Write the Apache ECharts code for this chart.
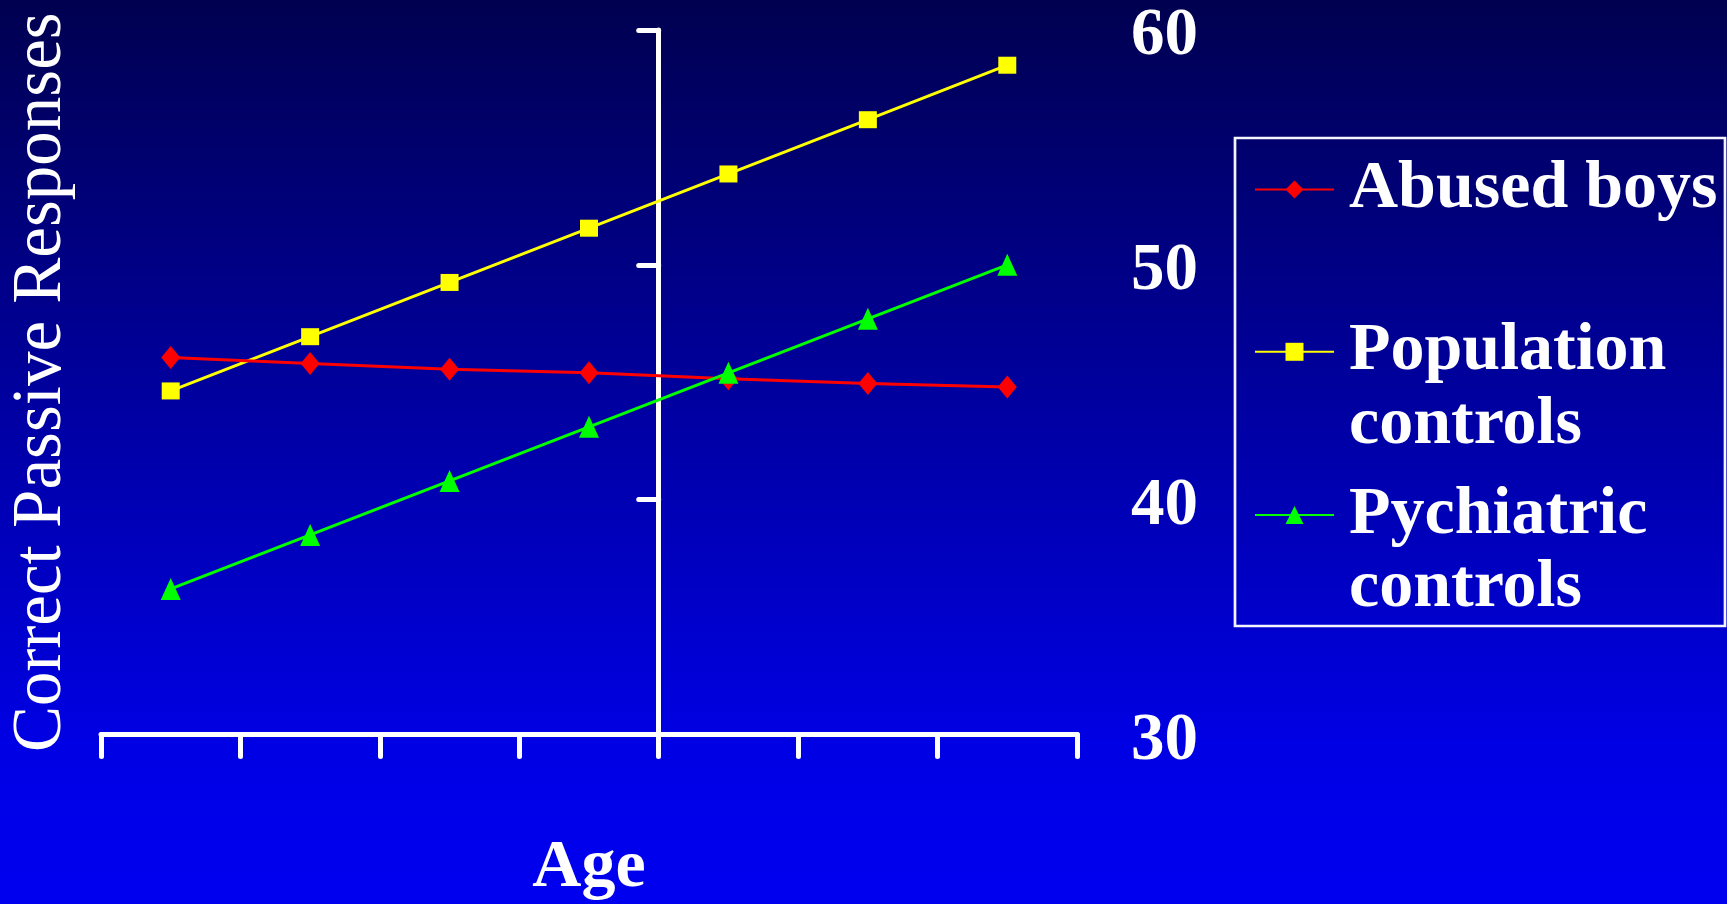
<!DOCTYPE html>
<html>
<head>
<meta charset="utf-8">
<script src="https://cdn.jsdelivr.net/npm/echarts@6/dist/echarts.min.js"></script>
<style>
  html, body { margin: 0; padding: 0; }
  #chart { width: 1727px; height: 904px; }
</style>
</head>
<body>
<div id="chart"></div>
<script>
// Age steps along the horizontal axis (unlabelled)
const ageSteps = ['1', '2', '3', '4', '5', '6', '7'];

// Correct passive responses per group
const abusedBoys = [46.05, 45.8, 45.55, 45.4, 45.15, 44.95, 44.8];
const populationControls = [44.63, 46.94, 49.25, 51.56, 53.87, 56.18, 58.5];
const psychiatricControls = [36.2, 38.5, 40.8, 43.1, 45.4, 47.7, 50.0];

// Value axis range and step
const yMin = 30;
const yMax = 60;
const yStep = 10;

const seriesNames = ['Abused boys', 'Population controls', 'Pychiatric controls'];
// A blank leading line keeps the icon level with the first line of two-line entries
const legendLabels = {
  'Abused boys': 'Abused boys',
  'Population controls': ' \nPopulation\ncontrols',
  'Pychiatric controls': ' \nPychiatric\ncontrols'
};

const serif = "'Liberation Serif', 'Times New Roman', serif";
const white = '#FFFFFF';

const chart = echarts.init(document.getElementById('chart'), null, { renderer: 'canvas' });

function legendFor(name, top) {
  return {
    data: [name],
    left: 1254,
    top: top,
    padding: 0,
    itemWidth: 79,
    itemHeight: 22.5,
    selectedMode: false,
    formatter: n => legendLabels[n],
    textStyle: {
      color: white,
      fontFamily: serif,
      fontWeight: 'bold',
      fontSize: 68,
      lineHeight: 73.6,
      padding: [0, 0, 0, 10]
    }
  };
}

const valueAxisBase = {
  type: 'value',
  min: yMin,
  max: yMax,
  interval: yStep,
  splitLine: { show: false }
};

chart.setOption({
  backgroundColor: {
    type: 'linear', x: 0, y: 0, x2: 0, y2: 1,
    colorStops: [
      { offset: 0, color: '#000050' },
      { offset: 0.82, color: '#0000E4' },
      { offset: 1, color: '#0000F0' }
    ]
  },
  animation: false,
  grid: {
    left: 101, right: 650, top: 30, bottom: 169.5,
    containLabel: false,
    outerBoundsMode: 'none'
  },
  xAxis: {
    type: 'category',
    data: ageSteps,
    boundaryGap: true,
    name: 'Age',
    nameLocation: 'middle',
    nameGap: 100,
    nameTextStyle: { color: white, fontFamily: serif, fontWeight: 'bold', fontSize: 68 },
    axisLine: { show: true, lineStyle: { color: white, width: 5, cap: 'round' } },
    axisTick: { show: true, interval: 0, length: 22, lineStyle: { color: white, width: 5, cap: 'round' } },
    axisLabel: { show: false },
    splitLine: { show: false }
  },
  yAxis: [
    // title axis on the left edge of the plot
    Object.assign({}, valueAxisBase, {
      position: 'left',
      name: 'Correct Passive Responses',
      nameLocation: 'middle',
      nameRotate: 90,
      nameGap: 25,
      nameTextStyle: { color: white, fontFamily: serif, fontWeight: 'normal', fontSize: 69 },
      axisLine: { show: false },
      axisTick: { show: false },
      axisLabel: { show: false }
    }),
    // the visible vertical axis crossing the plot
    Object.assign({}, valueAxisBase, {
      position: 'right',
      offset: -418.3,
      axisLine: { show: true, lineStyle: { color: white, width: 5, cap: 'round' } },
      axisTick: { show: true, inside: true, length: 20, lineStyle: { color: white, width: 5, cap: 'round' } },
      axisLabel: { show: false }
    }),
    // tick values to the right of the plot
    Object.assign({}, valueAxisBase, {
      position: 'right',
      offset: 0,
      axisLine: { show: false },
      axisTick: { show: false },
      axisLabel: {
        show: true,
        margin: 54,
        color: white,
        fontFamily: serif,
        fontWeight: 'bold',
        fontSize: 67,
        align: 'left',
        verticalAlign: 'top',
        lineHeight: 14
      }
    })
  ],
  legend: [
    legendFor(seriesNames[0], 152.6),
    legendFor(seriesNames[1], 241.4),
    legendFor(seriesNames[2], 404.6)
  ],
  graphic: [{
    type: 'rect',
    shape: { x: 1235, y: 138, width: 490, height: 488 },
    style: { fill: null, stroke: '#F4F4FF', lineWidth: 2.7 },
    silent: true
  }],
  series: [
    {
      name: seriesNames[0],
      type: 'line',
      yAxisIndex: 0,
      data: abusedBoys,
      symbol: 'diamond',
      symbolSize: [19, 23],
      lineStyle: { color: '#FF0000', width: 3 },
      itemStyle: { color: '#FF0000' },
      z: 3
    },
    {
      name: seriesNames[1],
      type: 'line',
      yAxisIndex: 0,
      data: populationControls,
      symbol: 'rect',
      symbolSize: [18, 17],
      lineStyle: { color: '#FFFF00', width: 3 },
      itemStyle: { color: '#FFFF00' },
      z: 2
    },
    {
      name: seriesNames[2],
      type: 'line',
      yAxisIndex: 0,
      data: psychiatricControls,
      symbol: 'triangle',
      symbolSize: [20, 22],
      lineStyle: { color: '#00FF00', width: 3 },
      itemStyle: { color: '#00FF00' },
      z: 4
    }
  ]
});
</script>
</body>
</html>
